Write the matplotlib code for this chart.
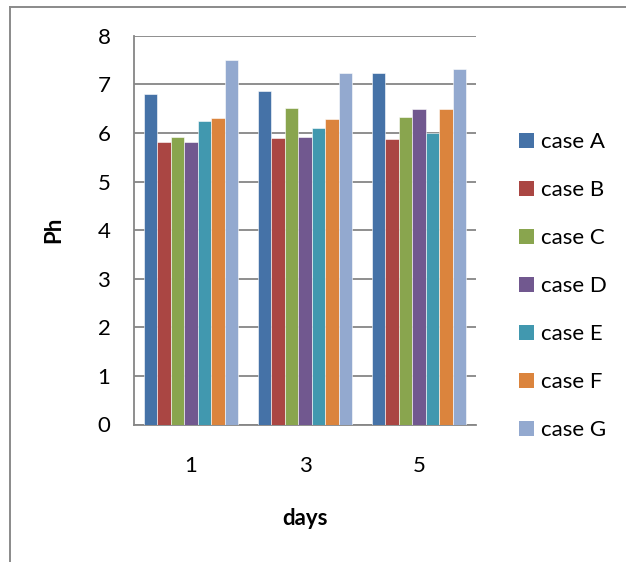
import numpy as np
import matplotlib.pyplot as plt
from matplotlib.patches import Patch
from matplotlib.lines import Line2D

plt.rcParams['font.family'] = ['Lato', 'DejaVu Sans']

# data
days = ['1', '3', '5']
cases = ['case A', 'case B', 'case C', 'case D', 'case E', 'case F', 'case G']
case_a = [6.81, 6.86, 7.24]
case_b = [5.82, 5.90, 5.87]
case_c = [5.92, 6.51, 6.32]
case_d = [5.82, 5.92, 6.50]
case_e = [6.25, 6.10, 5.99]
case_f = [6.30, 6.28, 6.49]
case_g = [7.49, 7.24, 7.31]
series = [case_a, case_b, case_c, case_d, case_e, case_f, case_g]
colors = ['#4572A7', '#AA4643', '#89A54E', '#71588F', '#4198AF', '#DB843D', '#93A9CF']

fig = plt.figure(figsize=(6.26, 5.62), dpi=100)
ax = fig.add_axes([134/626, 1 - 424.5/562, (476 - 134)/626, (424.5 - 35.7)/562])

x = np.arange(len(days))
n = len(series)
width = 0.825 / n
for i, (vals, col) in enumerate(zip(series, colors)):
    ax.bar(x - 0.825/2 + width*(i + 0.5), vals, width, color=col,
           edgecolor='white', linewidth=0.4, zorder=3)

ax.set_xlim(-0.5, len(days) - 0.5)
ax.set_ylim(0, 8)
ax.set_yticks(range(0, 9))
ax.set_xticks(x)
ax.set_xticklabels(days)
ax.tick_params(axis='both', length=0, labelsize=16, colors='black')
ax.tick_params(axis='y', pad=17)
ax.tick_params(axis='x', pad=23)
ax.yaxis.grid(True, color='#868686', linewidth=1.3, zorder=0)
ax.set_axisbelow(True)
for s in ['top', 'right']:
    ax.spines[s].set_visible(False)
for s in ['left', 'bottom']:
    ax.spines[s].set_color('#868686')
    ax.spines[s].set_linewidth(1.3)

ax.set_xlabel('days', fontsize=16, fontweight='bold', labelpad=23)
ax.set_ylabel('Ph', fontsize=16, fontweight='bold', labelpad=24)

handles = [Patch(facecolor=c, edgecolor='none') for c in colors]
fig.legend(handles, cases, loc='center left', bbox_to_anchor=(519/626, 1 - 286/562),
           frameon=False, fontsize=16, borderpad=0, borderaxespad=0,
           handlelength=0.68, handleheight=0.68, handletextpad=0.32, labelspacing=1.26)

# outer chart border (only top and left are visible in the crop)
fig.add_artist(Line2D([9.5/626, 9.5/626], [0, 1 - 6.5/562], transform=fig.transFigure,
                      color='#8a8a8a', linewidth=1.4))
fig.add_artist(Line2D([9.5/626, 1], [1 - 6.5/562, 1 - 6.5/562], transform=fig.transFigure,
                      color='#8a8a8a', linewidth=1.4))

fig.savefig('out.png', dpi=100)
